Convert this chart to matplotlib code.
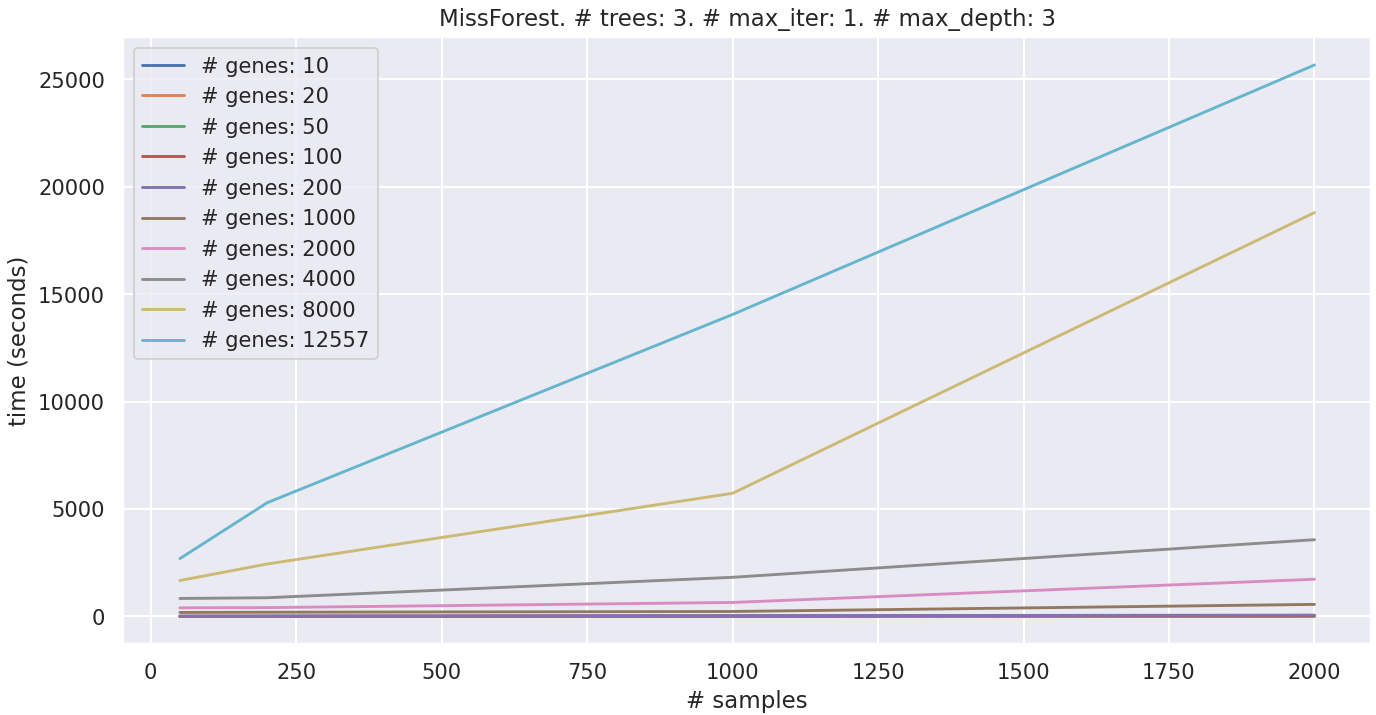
import matplotlib
matplotlib.use("Agg")
import matplotlib.pyplot as plt
import seaborn as sns

# number of samples (x axis)
samples = [50, 200, 1000, 2000]

# genes per run, one line each
genes = [10, 20, 50, 100, 200, 1000, 2000, 4000, 8000, 12557]

# time in seconds
t_10 = [2, 3, 6, 10]
t_20 = [3, 4, 9, 15]
t_50 = [5, 7, 14, 22]
t_100 = [8, 10, 20, 32]
t_200 = [12, 16, 35, 60]
t_1000 = [185, 195, 230, 560]
t_2000 = [400, 410, 650, 1730]
t_4000 = [835, 870, 1820, 3570]
t_8000 = [1670, 2440, 5730, 18790]
t_12557 = [2690, 5290, 14050, 25660]

times = [t_10, t_20, t_50, t_100, t_200, t_1000, t_2000, t_4000, t_8000, t_12557]

sns.set_theme()

fig, ax = plt.subplots(figsize=(10, 5.2), dpi=137.6)

for g, t in zip(genes, times):
    ax.plot(samples, t, label=f"# genes: {g}")

ax.set_xlabel("# samples")
ax.set_ylabel("time (seconds)")
ax.set_title("MissForest. # trees: 3. # max_iter: 1. # max_depth: 3")
ax.legend(loc="upper left")

fig.subplots_adjust(left=0.0895, right=0.9965, top=0.947, bottom=0.0993)
fig.savefig("out.png")
